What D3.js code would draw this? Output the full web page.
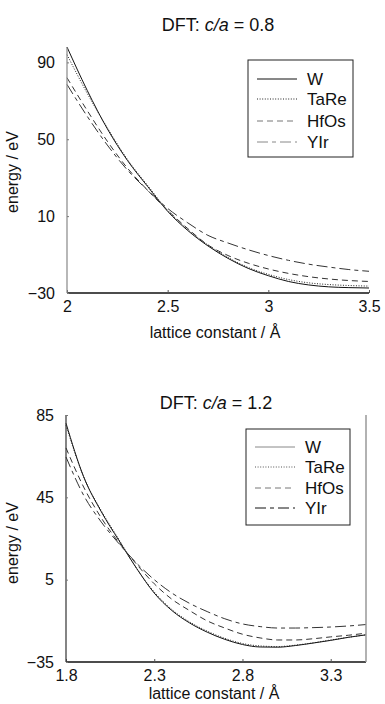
<!DOCTYPE html>
<html><head><meta charset="utf-8">
<script src="https://cdn.jsdelivr.net/npm/d3@7"></script>
<style>body{margin:0;background:#fff}svg{display:block;font-family:"Liberation Sans",Arial,sans-serif}</style>
</head><body><svg id="c" width="385" height="704"></svg>
<script>
// ---- data ----
const seriesNames = ["W","TaRe","HfOs","YIr"];
const xTop = [2.0,2.1,2.2,2.3,2.4,2.5,2.6,2.7,2.8,2.9,3.0,3.1,3.2,3.3,3.4,3.5];
const topW    = [98,75.5,55.5,39,25.5,12.5,2.5,-5.5,-12,-17.2,-21,-24,-25.8,-26.8,-27.2,-27.4];
const topTaRe = [94,74,56,39.5,26,13,3,-5,-11.5,-16.7,-20.3,-23,-24.7,-25.6,-26.1,-26.4];
const topHfOs = [82,65,49,35,23.5,13,3.5,-5,-10.5,-14.5,-17.5,-19.8,-21.5,-22.7,-23.5,-24];
const topYIr  = [78.5,62,47,34,23.5,14,6.5,0,-4,-7.5,-10.5,-13,-15,-16.5,-17.8,-18.7];
const xBot = [1.8,1.9,2.0,2.1,2.2,2.3,2.4,2.5,2.6,2.7,2.8,2.9,3.0,3.1,3.2,3.3,3.4,3.5];
const botW    = [81,55,38,24,10.5,-1.5,-10,-16,-20.5,-24,-26.5,-27.7,-27.8,-27,-25.8,-24.5,-23,-21.8];
const botTaRe = [80,55,38.5,24.5,10.5,-1,-9.5,-15.5,-20,-23.5,-26,-27.2,-27.5,-26.8,-25.7,-24.3,-23,-21.8];
const botHfOs = [69,50,35,23,12.5,3,-4.5,-10,-15,-18.5,-21.5,-23.3,-24.3,-24.3,-23.7,-22.8,-22,-21];
const botYIr  = [64.6,46,33,22.5,13,5,-1.5,-6.5,-10.5,-14,-16.5,-17.8,-18.5,-18.5,-18.3,-18,-17.5,-16.8];
const topXTicks = [2,2.5,3,3.5];
const topYTicks = [90,50,10,-30];
const botXTicks = [1.8,2.3,2.8,3.3];
const botYTicks = [85,45,5,-35];

const svg = d3.select("#c");
const styles = {
  W:{dash:null},
  TaRe:{dash:"1,1.6"},
  HfOs:{dash:"6,4"},
  YIr:{dash:"11,4,4,4"}
};

function fmt(v){ return v<0 ? "\u2212"+Math.abs(v) : String(v); }

function panel(cfg){
  const x = d3.scaleLinear().domain(cfg.xd).range(cfg.xr);
  const y = d3.scaleLinear().domain(cfg.yd).range(cfg.yr);
  const g = svg.append("g");
  // title
  const t = g.append("text").attr("x",cfg.titleX).attr("y",cfg.titleY)
    .attr("text-anchor","middle").attr("font-size",18).attr("fill","#111");
  t.append("tspan").text("DFT: ");
  t.append("tspan").attr("font-style","italic").text("c/a");
  t.append("tspan").text(" = "+cfg.ratio);
  // lines
  const line = d3.line().x((d,i)=>x(cfg.xs[i])).y(d=>y(d)).curve(d3.curveMonotoneX);
  seriesNames.forEach((n,k)=>{
    g.append("path").datum(cfg.data[k]).attr("d",line)
      .attr("fill","none").attr("stroke",cfg.lineCol[k]).attr("stroke-width",1)
      .attr("stroke-dasharray",styles[n].dash);
  });
  // axes
  const ax = d3.axisBottom(x).tickValues(cfg.xt).tickSize(-3).tickFormat(d=>String(d)).tickPadding(5);
  const gx = g.append("g").attr("transform",`translate(0,${cfg.yr[0]})`).call(ax);
  gx.select(".domain").attr("stroke","#111").attr("stroke-width",1.3).attr("d",`M${cfg.xr[0]},0H${cfg.xr[1]}`);
  gx.selectAll(".tick line").attr("stroke","#555");
  gx.selectAll("text").attr("font-size",16).attr("fill","#111").attr("font-family","Liberation Sans, Arial").attr("dy","0.85em");
  const ay = d3.axisLeft(y).tickValues(cfg.yt).tickSize(-2).tickFormat(fmt).tickPadding(12);
  const gy = g.append("g").attr("transform",`translate(${cfg.xr[0]},0)`).call(ay);
  gy.select(".domain").attr("stroke",cfg.leftAxisCol).attr("stroke-width",1.2).attr("d",`M0,${cfg.yr[0]}V${cfg.yr[1]}`);
  gy.selectAll(".tick line").attr("stroke","#777");
  gy.selectAll("text").attr("font-size",16).attr("fill","#111").attr("font-family","Liberation Sans, Arial");
  if(cfg.rightLine){
    g.append("line").attr("x1",cfg.xr[1]).attr("x2",cfg.xr[1]).attr("y1",cfg.yr[0]).attr("y2",cfg.yr[1])
      .attr("stroke","#999").attr("stroke-width",1.5);
  }
  // axis labels
  g.append("text").attr("x",cfg.xlabX).attr("y",cfg.xlabY).attr("text-anchor","middle")
    .attr("font-size",16).attr("fill","#111").text("lattice constant / \u00C5");
  g.append("text").attr("transform",`translate(${cfg.ylabX},${cfg.ylabY}) rotate(-90)`)
    .attr("text-anchor","middle").attr("font-size",16).attr("fill","#111").text("energy / eV");
  // legend
  const L = cfg.legend;
  g.append("rect").attr("x",L.x).attr("y",L.y).attr("width",L.w).attr("height",L.h)
    .attr("fill","#fff").attr("stroke","#222").attr("stroke-width",1);
  seriesNames.forEach((n,k)=>{
    const yy = L.rows[k];
    g.append("line").attr("x1",L.x+9).attr("x2",L.x+49).attr("y1",yy).attr("y2",yy)
      .attr("stroke",cfg.legCol[k]).attr("stroke-width",1).attr("stroke-dasharray",styles[n].dash);
    g.append("text").attr("x",L.x+59).attr("y",yy+6).attr("font-size",17).attr("fill","#111").text(n);
  });
}

panel({
  xs:xTop, data:[topW,topTaRe,topHfOs,topYIr], ratio:"0.8",
  xd:[2,3.5], xr:[67,369], yd:[-30,98], yr:[293,47],
  xt:topXTicks, yt:topYTicks,
  titleX:218, titleY:31, xlabX:215, xlabY:338, ylabX:18, ylabY:172,
  lineCol:["#111","#222","#333","#333"], legCol:["#111","#222","#777","#888"],
  leftAxisCol:"#888", rightLine:false,
  legend:{x:248,y:60,w:105,h:97,rows:[79,99,121,142]}
});
panel({
  xs:xBot, data:[botW,botTaRe,botHfOs,botYIr], ratio:"1.2",
  xd:[1.8,3.5], xr:[66,366], yd:[-35,85], yr:[662,415],
  xt:botXTicks, yt:botYTicks,
  titleX:216, titleY:409, xlabX:214, xlabY:699, ylabX:18, ylabY:543,
  lineCol:["#111","#222","#333","#333"], legCol:["#888","#555","#777","#111"],
  leftAxisCol:"#333", rightLine:true,
  legend:{x:246,y:429,w:104,h:96,rows:[447,467,488,508]}
});
</script></body></html>
